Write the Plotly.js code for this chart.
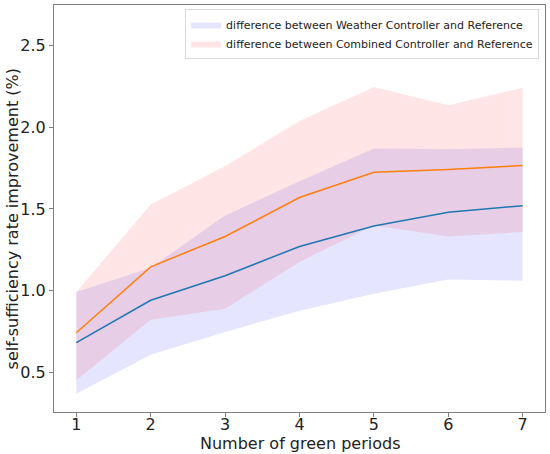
<!DOCTYPE html>
<html>
<head>
<meta charset="utf-8">
<script src="https://cdn.plot.ly/plotly-3.0.1.min.js"></script>
<style>
  html, body { margin: 0; padding: 0; background: #fff; }
  #chart { width: 550px; height: 454px; }
</style>
</head>
<body>
<div id="chart"></div>
<script>
// ── Data ────────────────────────────────────────────────────────────
const periods = [1, 2, 3, 4, 5, 6, 7];

// Weather controller vs reference
const weatherMean  = [0.68, 0.94, 1.09, 1.27, 1.395, 1.48, 1.52];
const weatherUpper = [0.99, 1.14, 1.46, 1.67, 1.87, 1.866, 1.876];
const weatherLower = [0.367, 0.606, 0.745, 0.875, 0.98, 1.068, 1.059];

// Combined controller vs reference
const combinedMean  = [0.741, 1.145, 1.331, 1.57, 1.725, 1.741, 1.766];
const combinedUpper = [0.99, 1.527, 1.763, 2.039, 2.247, 2.135, 2.243];
const combinedLower = [0.449, 0.82, 0.888, 1.175, 1.40, 1.331, 1.359];

const bandNames = [
  "difference between Weather Controller and Reference",
  "difference between Combined Controller and Reference",
];

const xTitle = "Number of green periods";
const yTitle = "self-sufficiency rate improvement (%)";

// ── Helpers ─────────────────────────────────────────────────────────
function band(upper, lower, fillcolor, name) {
  return {
    x: periods.concat(periods.slice().reverse()),
    y: upper.concat(lower.slice().reverse()),
    type: "scatter",
    mode: "lines",
    fill: "toself",
    fillcolor,
    line: { width: 0, color: fillcolor },
    name,
    hoverinfo: "skip",
  };
}

function meanLine(y, color) {
  return {
    x: periods, y,
    type: "scatter",
    mode: "lines",
    line: { color, width: 1.5 },
    showlegend: false,
  };
}

const traces = [
  band(weatherUpper, weatherLower, "rgba(0,0,255,0.1)", bandNames[0]),
  band(combinedUpper, combinedLower, "rgba(255,0,0,0.1)", bandNames[1]),
  meanLine(weatherMean, "#1f77b4"),
  meanLine(combinedMean, "#ff7f0e"),
];

const axisCommon = {
  showgrid: false,
  zeroline: false,
  showline: true,
  mirror: true,
  linecolor: "#808080",
  linewidth: 1,
  ticks: "outside",
  ticklen: 4,
  tickcolor: "#808080",
  tickfont: { size: 16, color: "#222" },
};

// axis titles placed as annotations so they sit where the reference has them
const annotations = [
  {
    text: xTitle,
    xref: "paper", yref: "paper",
    x: 0.5, y: -0.077,
    xanchor: "center", yanchor: "middle",
    showarrow: false,
    font: { size: 16, color: "#222" },
  },
  {
    text: yTitle,
    xref: "paper", yref: "paper",
    x: -0.084, y: 0.475,
    xanchor: "center", yanchor: "middle",
    textangle: -90,
    showarrow: false,
    font: { size: 16, color: "#222" },
  },
];

const layout = {
  width: 550,
  height: 454,
  margin: { l: 54, r: 5, t: 5, b: 42 },
  font: { family: "DejaVu Sans, sans-serif", color: "#222" },
  paper_bgcolor: "#fff",
  plot_bgcolor: "#fff",
  xaxis: Object.assign({}, axisCommon, {
    range: [0.7, 7.3],
    tickvals: periods,
    ticklabelstandoff: -6,
  }),
  yaxis: Object.assign({}, axisCommon, {
    range: [0.255, 2.75],
    tickvals: [0.5, 1.0, 1.5, 2.0, 2.5],
    ticktext: ["0.5", "1.0", "1.5", "2.0", "2.5"],
  }),
  annotations,
  legend: {
    x: 0.988, y: 0.99,
    xanchor: "right", yanchor: "top",
    bgcolor: "rgba(255,255,255,0.8)",
    bordercolor: "#d8d8d8",
    borderwidth: 1,
    font: { size: 11, color: "#222" },
    tracegroupgap: 0,
    itemwidth: 30,
  },
  showlegend: true,
};

Plotly.newPlot("chart", traces, layout, { displayModeBar: false, staticPlot: true });
</script>
</body>
</html>
